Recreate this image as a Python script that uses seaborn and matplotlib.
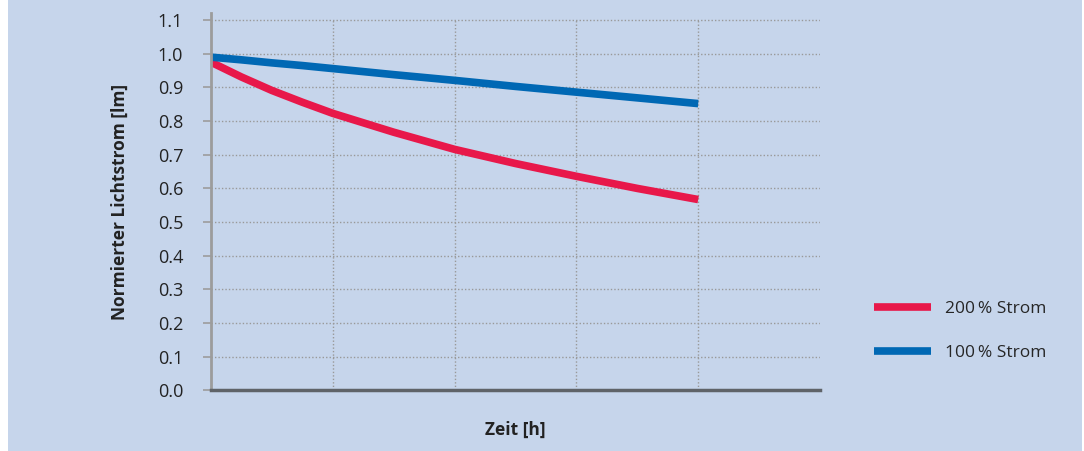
import matplotlib
matplotlib.use('Agg')
import matplotlib.pyplot as plt
import pandas as pd
import seaborn as sns

# values
zeit = [0, 0.25, 0.5, 0.75, 1, 1.5, 2, 2.5, 3, 3.5, 4]
strom_200 = [0.975, 0.931, 0.891, 0.856, 0.823, 0.767, 0.716, 0.674, 0.636, 0.600, 0.567]
strom_100 = [0.990, 0.982, 0.973, 0.965, 0.956, 0.938, 0.921, 0.903, 0.886, 0.869, 0.852]
y_ticks = [0.0, 0.1, 0.2, 0.3, 0.4, 0.5, 0.6, 0.7, 0.8, 0.9, 1.0, 1.1]
x_grid = [1, 2, 3, 4]

df = pd.DataFrame({
    'Zeit': zeit * 2,
    'Lichtstrom': strom_200 + strom_100,
    'Serie': ['200\u2009% Strom'] * len(zeit) + ['100\u2009% Strom'] * len(zeit),
})

bg = '#c6d5eb'
sns.set_theme(style='white')
plt.rcParams['font.family'] = ['Open Sans', 'DejaVu Sans']

fig = plt.figure(figsize=(10.84, 4.51), dpi=100, facecolor='white')
fig.patches.append(plt.Rectangle((8 / 1084, 0), 1074 / 1084, 1, transform=fig.transFigure,
                                 facecolor=bg, edgecolor='none', zorder=-10))

ax = fig.add_axes([211 / 1084, 1 - 390.4 / 451, (820 - 211) / 1084, (390.4 - 12.7) / 451])
ax.set_facecolor(bg)

sns.lineplot(data=df, x='Zeit', y='Lichtstrom', hue='Serie',
             palette={'200\u2009% Strom': '#e8184a', '100\u2009% Strom': '#0068b4'},
             linewidth=5.5, ax=ax, legend=True)
for line in ax.get_lines():
    line.set_solid_capstyle('butt')

ax.set_xlim(0, 5)
ax.set_ylim(0, 1.122)
ax.set_yticks(y_ticks)
ax.set_yticklabels([f'{t:.1f}' for t in y_ticks], fontsize=13, color='#222222')
ax.set_xticks([])

# dotted grid
for t in y_ticks[1:]:
    ax.axhline(t, color='#999999', linestyle=(0, (1, 1.5)), linewidth=1, zorder=0)
ax.vlines(x_grid, 0, 1.1, color='#999999', linestyle=(0, (1, 1.5)), linewidth=1, zorder=0)

for s in ['top', 'right']:
    ax.spines[s].set_visible(False)
ax.spines['left'].set_color('#9c9c9c')
ax.spines['left'].set_linewidth(2)
ax.spines['bottom'].set_color('#5f6368')
ax.spines['bottom'].set_linewidth(2.5)
ax.tick_params(axis='y', direction='out', length=6, width=1.2, color='#9c9c9c', pad=14, left=True)

ax.set_xlabel('Zeit [h]', fontsize=12.5, fontweight='bold', color='#222222', labelpad=22)
ax.set_ylabel('Normierter Lichtstrom [lm]', fontsize=12.5, fontweight='bold', color='#222222', labelpad=21)

leg = ax.legend(loc='center left', bbox_to_anchor=(858 / 1084, 1 - 331 / 451),
                bbox_transform=fig.transFigure, frameon=False, fontsize=12.5,
                handlelength=3.3, handletextpad=0.8, labelspacing=1.6)
for line in leg.get_lines():
    line.set_linewidth(5.5)
    line.set_solid_capstyle('butt')

fig.savefig('out.png', dpi=100, facecolor='white')
